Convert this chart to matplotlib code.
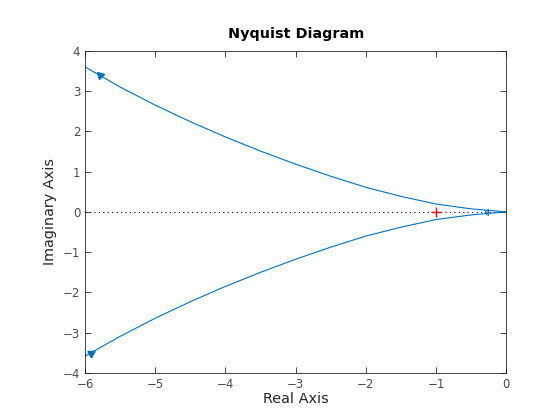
import numpy as np
import matplotlib.pyplot as plt

# branches
re_up = [-6.0, -5.5, -5.0, -4.5, -4.0, -3.5, -3.0, -2.5, -2.0, -1.5, -1.0, -0.5, 0.0]
im_up = [3.6, 3.10, 2.65, 2.24, 1.86, 1.51, 1.185, 0.885, 0.61, 0.385, 0.195, 0.075, 0.0]
re_lo = [-6.0, -5.5, -5.0, -4.5, -4.0, -3.5, -3.0, -2.5, -2.0, -1.5, -1.0, -0.5, 0.0]
im_lo = [-3.58, -3.09, -2.64, -2.23, -1.85, -1.50, -1.175, -0.875, -0.60, -0.38, -0.19, -0.075, 0.0]

# arrow positions
arr_x = [-5.79, -5.92]
arr_y = [3.39, -3.5]
arr_ang = [165, 180]

blue = '#0072BD'
grey = '#262626'

plt.rcParams['font.family'] = ['DejaVu Sans']
fig = plt.figure(figsize=(5.6, 4.2), dpi=100)
ax = fig.add_axes([0.152, 0.112, 0.752, 0.767])

ax.plot([-6, 0], [0, 0], color='k', linestyle=(0, (1, 3)), linewidth=0.8)
ax.plot(re_up, im_up, color=blue, linewidth=0.8)
ax.plot(re_lo, im_lo, color=blue, linewidth=0.8)
for x, y, a in zip(arr_x, arr_y, arr_ang):
    ax.plot(x, y, marker=(3, 0, a), color=blue, markersize=6, linestyle='')
ax.plot([-0.28, -0.28], [0.025, -0.025], marker=(3, 0, 90), markersize=3.5, color=blue,
        fillstyle='none', linestyle='', markeredgewidth=0.6)
ax.plot(-1, 0, marker='+', color='r', markersize=7, markeredgewidth=1)

ax.set_xlim(-6, 0)
ax.set_ylim(-4, 4)
ax.set_xticks(np.arange(-6, 1, 1))
ax.set_yticks(np.arange(-4, 5, 1))
ax.tick_params(direction='in', length=4, width=0.6, top=True, right=True,
               colors=grey, labelsize=8.5, labelcolor='#4d4d4d')
for s in ax.spines.values():
    s.set_color(grey)
    s.set_linewidth(0.6)

ax.set_title('Nyquist Diagram', fontsize=10.4, fontweight='bold', color='k', pad=9)
ax.set_xlabel('Real Axis', fontsize=10.4, color=grey, labelpad=1)
ax.set_ylabel('Imaginary Axis', fontsize=10.4, color=grey, labelpad=4)

fig.savefig('out.png', dpi=100)
